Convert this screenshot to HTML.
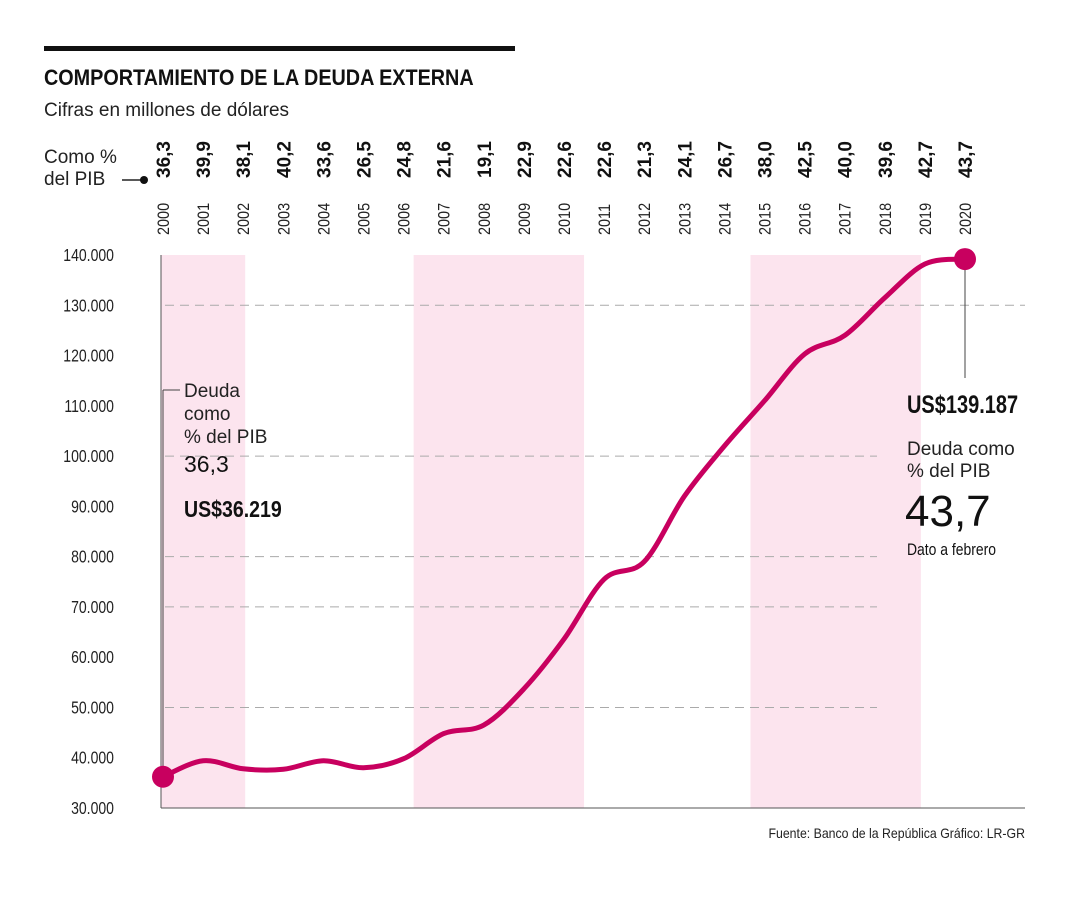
<!DOCTYPE html>
<html><head><meta charset="utf-8"><style>
body{margin:0;background:#fff;}
svg{display:block;font-family:"Liberation Sans",sans-serif;}
</style></head><body>
<svg id="c" width="1080" height="900" viewBox="0 0 1080 900">
<rect x="44" y="46" width="471" height="5" fill="#111"/>
<text x="44" y="85" font-size="22" font-weight="bold" fill="#111" transform="translate(44 0) scale(0.9 1) translate(-44 0)">COMPORTAMIENTO DE LA DEUDA EXTERNA</text>
<text x="44" y="116" font-size="19" fill="#222">Cifras en millones de dólares</text>
<text x="44" y="163" font-size="19" fill="#222">Como %</text>
<text x="44" y="185" font-size="19" fill="#222">del PIB</text>
<line x1="122" y1="180" x2="142" y2="180" stroke="#222" stroke-width="1.5"/>
<circle cx="144" cy="180" r="4" fill="#111"/>
<g id="bands"></g><g id="grid"></g><g id="ylab"></g><g id="top"></g>
<line x1="161" y1="255" x2="161" y2="808" stroke="#555" stroke-width="1"/>
<line x1="161" y1="808" x2="1025" y2="808" stroke="#555" stroke-width="1"/>
<line x1="163" y1="390" x2="163" y2="776" stroke="#444" stroke-width="1"/>
<line x1="163" y1="390" x2="180" y2="390" stroke="#444" stroke-width="1"/>
<text font-size="19" fill="#222"><tspan x="184" y="397">Deuda</tspan><tspan x="184" y="420">como</tspan><tspan x="184" y="443">% del PIB</tspan></text>
<text x="184" y="472" font-size="23" fill="#111">36,3</text>
<text x="184" y="517" font-size="23" font-weight="bold" fill="#111" transform="translate(184 0) scale(0.85 1) translate(-184 0)">US$36.219</text>
<line x1="965" y1="262" x2="965" y2="378" stroke="#444" stroke-width="1"/>
<text x="907" y="413" font-size="25" font-weight="bold" fill="#111" transform="translate(907 0) scale(0.8 1) translate(-907 0)">US$139.187</text>
<text font-size="19" fill="#222"><tspan x="907" y="455">Deuda como</tspan><tspan x="907" y="477">% del PIB</tspan></text>
<text x="905" y="526" font-size="44" fill="#111">43,7</text>
<text x="907" y="555" font-size="17" fill="#111" transform="translate(907 0) scale(0.82 1) translate(-907 0)">Dato a febrero</text>
<text x="1025" y="838" font-size="14" fill="#222" text-anchor="end" transform="translate(1025 0) scale(0.88 1) translate(-1025 0)">Fuente: Banco de la República   Gráfico: LR-GR</text>
<g id="series"></g>
</svg>
<script>
const years=[2000,2001,2002,2003,2004,2005,2006,2007,2008,2009,2010,2011,2012,2013,2014,2015,2016,2017,2018,2019,2020];
const pib=["36,3","39,9","38,1","40,2","33,6","26,5","24,8","21,6","19,1","22,9","22,6","22,6","21,3","24,1","26,7","38,0","42,5","40,0","39,6","42,7","43,7"];
const debt=[36219,39400,37800,37700,39400,38000,39800,44800,46500,53700,63600,75500,79000,92000,102000,111000,120300,124000,131500,138200,139187];
const yTicks=[30000,40000,50000,60000,70000,80000,90000,100000,110000,120000,130000,140000];
const yTickLabels=["30.000","40.000","50.000","60.000","70.000","80.000","90.000","100.000","110.000","120.000","130.000","140.000"];
const gridVals=[50000,70000,80000,100000,130000];
const bands=[[2000,2002.05],[2006.3,2010.5],[2014.7,2018.9]];
const NS="http://www.w3.org/2000/svg";
const X=y=>163+(y-2000)*40.1;
const Y=v=>808-(v-30000)*(553/110000);
function mk(t,a,p){const e=document.createElementNS(NS,t);for(const k in a)e.setAttribute(k,a[k]);p.appendChild(e);return e;}
const gb=document.getElementById('bands');
bands.forEach(b=>{const r=mk('rect',{x:Math.max(161,X(b[0])-2),y:255,width:X(b[1])-Math.max(161,X(b[0])-2),height:553,fill:'#fce4ee'},gb);

});
const gg=document.getElementById('grid'),gl=document.getElementById('ylab');
gridVals.forEach(v=>{const l=mk('line',{x1:165,x2:v>=130000?1025:877,y1:Y(v),y2:Y(v),stroke:'#aaa','stroke-dasharray':'9 6','stroke-width':1},gg);
 
 });
yTicks.forEach((v,i)=>{
 const t=mk('text',{x:114,y:Y(v)+6,'font-size':18,fill:'#222','text-anchor':'end',transform:`translate(114 0) scale(0.78 1) translate(-114 0)`},gl);
 t.textContent=yTickLabels[i];
 
 
});
const gt=document.getElementById('top');
years.forEach((yr,i)=>{
 const x=X(yr);
 const a=mk('text',{transform:`translate(${x+7} 178) rotate(-90)`,'font-size':19,'font-weight':'bold',fill:'#111'},gt);
 a.textContent=pib[i];
 
 
 const b=mk('text',{transform:`translate(${x+6} 235) rotate(-90) scale(0.85 1)`,'font-size':17,fill:'#222'},gt);
 b.textContent=yr;
 
 
});
const pts=years.map((y,i)=>[X(y),Y(debt[i])]);
let d=`M${pts[0][0]},${pts[0][1]}`;
for(let i=0;i<pts.length-1;i++){const p0=pts[Math.max(0,i-1)],p1=pts[i],p2=pts[i+1],p3=pts[Math.min(pts.length-1,i+2)];
 d+=` C${p1[0]+(p2[0]-p0[0])/6},${p1[1]+(p2[1]-p0[1])/6} ${p2[0]-(p3[0]-p1[0])/6},${p2[1]-(p3[1]-p1[1])/6} ${p2[0]},${p2[1]}`;}
const gs=document.getElementById('series');
const path=mk('path',{d:d,fill:'none',stroke:'#c8005f','stroke-width':5,'stroke-linecap':'round'},gs);


[0,pts.length-1].forEach(i=>{const c=mk('circle',{cx:pts[i][0],cy:pts[i][1],r:11,fill:'#c8005f'},gs);

});
</script>
</body></html>
